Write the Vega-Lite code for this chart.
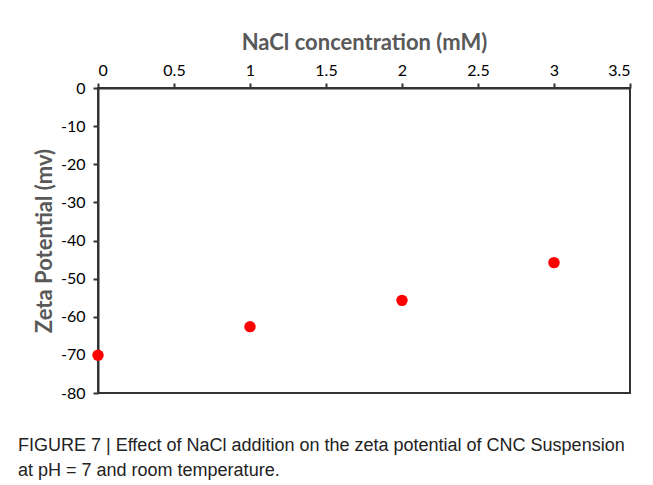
{
  "$schema": "https://vega.github.io/schema/vega-lite/v6.json",
  "autosize": "none",
  "width": 532,
  "height": 305,
  "padding": {"left": 98, "top": 88, "right": 23, "bottom": 92},
  "background": "white",
  "data": {"values": [
    {"c": 0, "z": -70.1},
    {"c": 1, "z": -62.6},
    {"c": 2, "z": -55.7},
    {"c": 3, "z": -45.8}
  ]},
  "mark": {"type": "point", "filled": true, "size": 130, "color": "#ff0000", "opacity": 1},
  "encoding": {
    "x": {
      "field": "c", "type": "quantitative",
      "scale": {"domain": [0, 3.5], "nice": false, "zero": false},
      "axis": {
        "orient": "top", "values": [0, 0.5, 1, 1.5, 2, 2.5, 3, 3.5],
        "labelExpr": "'' + datum.value",
        "title": "NaCl concentration (mM)",
        "grid": false, "tickSize": 5, "labelPadding": 5, "titlePadding": 8
      }
    },
    "y": {
      "field": "z", "type": "quantitative",
      "scale": {"domain": [-80, 0], "nice": false, "zero": false},
      "axis": {
        "orient": "left", "values": [0, -10, -20, -30, -40, -50, -60, -70, -80],
        "labelExpr": "'' + datum.value",
        "title": "Zeta Potential (mv)",
        "grid": false, "tickSize": 5, "labelPadding": 8, "titlePadding": 4
      }
    }
  },
  "title": {
    "text": ["FIGURE 7 | Effect of NaCl addition on the zeta potential of CNC Suspension", "at pH = 7 and room temperature."],
    "orient": "bottom", "anchor": "start", "frame": "group",
    "dx": -80, "offset": 36,
    "font": "Liberation Sans", "fontSize": 18, "fontWeight": "normal",
    "color": "#222222", "lineHeight": 25
  },
  "config": {
    "view": {"stroke": "#333333", "strokeWidth": 2},
    "axis": {
      "domainColor": "#333333", "domainWidth": 2,
      "tickColor": "#333333", "tickWidth": 2,
      "labelFont": "Lato", "labelFontSize": 16, "labelColor": "#000000",
      "titleFont": "Lato", "titleFontSize": 22, "titleFontWeight": "bold", "titleColor": "#595959"
    }
  }
}
